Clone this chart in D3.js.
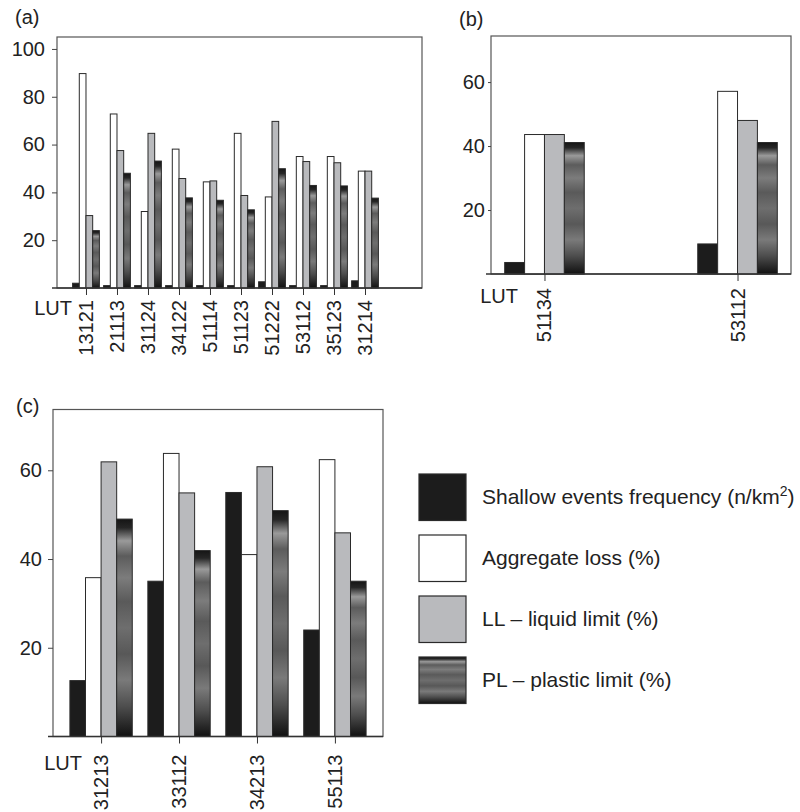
<!DOCTYPE html>
<html>
<head>
<meta charset="utf-8">
<script src="https://cdn.jsdelivr.net/npm/d3@7"></script>
<style>
  body { margin: 0; background: #fff; }
  svg { display: block; font-family: "Liberation Sans", Arial, Helvetica, sans-serif; }
</style>
</head>
<body>
<div id="chart"></div>
<script>
// ---- data ----
const seriesNames = ["Shallow events frequency (n/km", "Aggregate loss (%)", "LL \u2013 liquid limit (%)", "PL \u2013 plastic limit (%)"]

const lutA = ["13121", "21113", "31124", "34122", "51114", "51123", "51222", "53112", "35123", "31214"]
const shallowA = [2, 1, 1, 1, 1, 1, 2.6, 1, 1, 3]
const aggregateA = [89.7, 72.8, 32, 58.1, 44.4, 64.7, 38.1, 55, 55, 48.9]
const liquidA = [30.3, 57.5, 64.7, 45.8, 44.8, 38.7, 69.7, 52.9, 52.4, 48.9]
const plasticA = [24, 48, 53.1, 37.7, 36.7, 32.7, 49.9, 42.9, 42.7, 37.6]

const lutB = ["51134", "53112"]
const shallowB = [3.6, 9.4]
const aggregateB = [43.6, 57.1]
const liquidB = [43.6, 48]
const plasticB = [41.1, 41.1]

const lutC = ["31213", "33112", "34213", "55113"]
const shallowC = [12.6, 35, 55, 24]
const aggregateC = [35.8, 63.8, 41, 62.4]
const liquidC = [61.9, 54.9, 60.8, 45.9]
const plasticC = [49, 41.9, 50.9, 35]

const ticksA = [20, 40, 60, 80, 100]
const ticksBC = [20, 40, 60]

const width = 800
const height = 812
const textColor = "#222"

const svg = d3.select("#chart").append("svg")
  .attr("width", width)
  .attr("height", height)

svg.append("rect").attr("width", width).attr("height", height).attr("fill", "#fff")

// banded "cylinder" shading used for the PL bars
const grad = svg.append("defs").append("linearGradient")
  .attr("id", "plGrad")
  .attr("x1", 0).attr("y1", 0).attr("x2", 0).attr("y2", 1)
const gradStops = [
  [0, "#151515"], [0.04, "#262626"], [0.1, "#9a9a9a"], [0.17, "#5c5c5c"],
  [0.27, "#7c7c7c"], [0.38, "#5a5a5a"], [0.5, "#6e6e6e"], [0.62, "#585858"],
  [0.74, "#7a7a7a"], [0.86, "#4e4e4e"], [0.95, "#262626"], [1, "#111"]
]
grad.selectAll("stop").data(gradStops).join("stop")
  .attr("offset", d => d[0])
  .attr("stop-color", d => d[1])

const fills = ["#1c1c1c", "#fff", "#b9babd", "url(#plGrad)"]

function drawPanel(cfg) {
  const { letter, cats, series, box, yMax, ticks, pad, xRangeRight, barFrac, labelGap, lutX, lutY, letterPos, yTick, yPad } = cfg
  const g = svg.append("g")

  const x = d3.scalePoint()
    .domain(cats)
    .range([box.left, xRangeRight])
    .padding(pad)

  const y = d3.scaleLinear()
    .domain([0, yMax])
    .range([box.bottom, box.top])

  const bw = x.step() * barFrac

  // frame
  g.append("rect")
    .attr("x", box.left)
    .attr("y", box.top)
    .attr("width", box.right - box.left)
    .attr("height", box.bottom - box.top)
    .attr("fill", "none")
    .attr("stroke", "#555")
    .attr("stroke-width", 1.2)

  // bars: 4 per LUT, centred on the tick
  series.forEach((vals, si) => {
    g.append("g")
      .selectAll("rect")
      .data(cats.map((c, i) => ({ cat: c, value: vals[i] })))
      .join("rect")
      .attr("x", d => x(d.cat) + (si - 2) * bw)
      .attr("y", d => y(d.value))
      .attr("width", bw)
      .attr("height", d => y(0) - y(d.value))
      .attr("fill", fills[si])
      .attr("stroke", "#2a2a2a")
      .attr("stroke-width", 1)
  })

  // y axis
  const yAxis = g.append("g")
    .attr("transform", `translate(${box.left},0)`)
    .call(d3.axisLeft(y).tickValues(ticks).tickSize(yTick).tickPadding(yPad))
  yAxis.select(".domain").remove()
  yAxis.selectAll("line").attr("stroke", "#444")
  yAxis.selectAll("text")
    .attr("font-size", 20)
    .attr("font-family", "Liberation Sans, Arial, sans-serif")
    .attr("fill", textColor)

  // x axis: tick marks and a baseline running past the left frame
  const xAxis = g.append("g")
    .attr("transform", `translate(0,${box.bottom})`)
    .call(d3.axisBottom(x).tickSize(7).tickFormat(""))
  xAxis.select(".domain").remove()
  xAxis.selectAll("line").attr("stroke", "#333")

  g.append("line")
    .attr("x1", box.left - 5)
    .attr("x2", box.right)
    .attr("y1", box.bottom)
    .attr("y2", box.bottom)
    .attr("stroke", "#333")
    .attr("stroke-width", 1.5)

  // rotated LUT codes
  g.append("g")
    .selectAll("text")
    .data(cats)
    .join("text")
    .attr("transform", d => `translate(${x(d)},${box.bottom + labelGap}) rotate(-90)`)
    .attr("dy", "0.35em")
    .attr("text-anchor", "end")
    .attr("font-size", 20)
    .attr("fill", textColor)
    .text(d => d)

  g.append("text")
    .attr("x", lutX)
    .attr("y", lutY)
    .attr("text-anchor", "end")
    .attr("font-size", 20)
    .attr("fill", textColor)
    .text("LUT")

  g.append("text")
    .attr("x", letterPos[0])
    .attr("y", letterPos[1])
    .attr("font-size", 20)
    .attr("fill", textColor)
    .text(letter)
}

drawPanel({
  letter: "(a)",
  cats: lutA,
  series: [shallowA, aggregateA, liquidA, plasticA],
  box: { left: 57, top: 37, right: 422, bottom: 288 },
  xRangeRight: 394,
  pad: 0.935,
  yMax: 105,
  ticks: ticksA,
  yTick: 5, yPad: 7,
  barFrac: 0.216,
  labelGap: 12,
  lutX: 72, lutY: 315,
  letterPos: [15, 24]
})

drawPanel({
  letter: "(b)",
  cats: lutB,
  series: [shallowB, aggregateB, liquidB, plasticB],
  box: { left: 491, top: 36, right: 791, bottom: 274 },
  xRangeRight: 791,
  pad: 0.277,
  yMax: 74.4,
  ticks: ticksBC,
  yTick: 3, yPad: 3,
  barFrac: 0.103,
  labelGap: 14,
  lutX: 518, lutY: 303,
  letterPos: [459, 26]
})

drawPanel({
  letter: "(c)",
  cats: lutC,
  series: [shallowC, aggregateC, liquidC, plasticC],
  box: { left: 53, top: 409.5, right: 383, bottom: 736.5 },
  xRangeRight: 383,
  pad: 0.617,
  yMax: 73.7,
  ticks: ticksBC,
  yTick: 5, yPad: 6,
  barFrac: 0.2,
  labelGap: 18,
  lutX: 82, lutY: 770,
  letterPos: [16, 413]
})

// legend
const legendY = d3.scalePoint()
  .domain(d3.range(seriesNames.length))
  .range([474, 657])

const legend = svg.append("g")
const items = legend.selectAll("g")
  .data(seriesNames)
  .join("g")
  .attr("transform", (d, i) => `translate(419,${legendY(i)})`)

items.append("rect")
  .attr("width", 47)
  .attr("height", 46.5)
  .attr("fill", (d, i) => fills[i])
  .attr("stroke", "#2a2a2a")
  .attr("stroke-width", 1.2)

const labels = items.append("text")
  .attr("x", 63)
  .attr("y", 23)
  .attr("dy", "0.35em")
  .attr("font-size", 21)
  .attr("fill", textColor)
  .text(d => d)

// superscript for km2
labels.filter((d, i) => i === 0)
  .call(t => {
    t.append("tspan").attr("font-size", 14).attr("dy", -8).text("2")
    t.append("tspan").attr("dy", 8).text(")")
  })
</script>
</body>
</html>
